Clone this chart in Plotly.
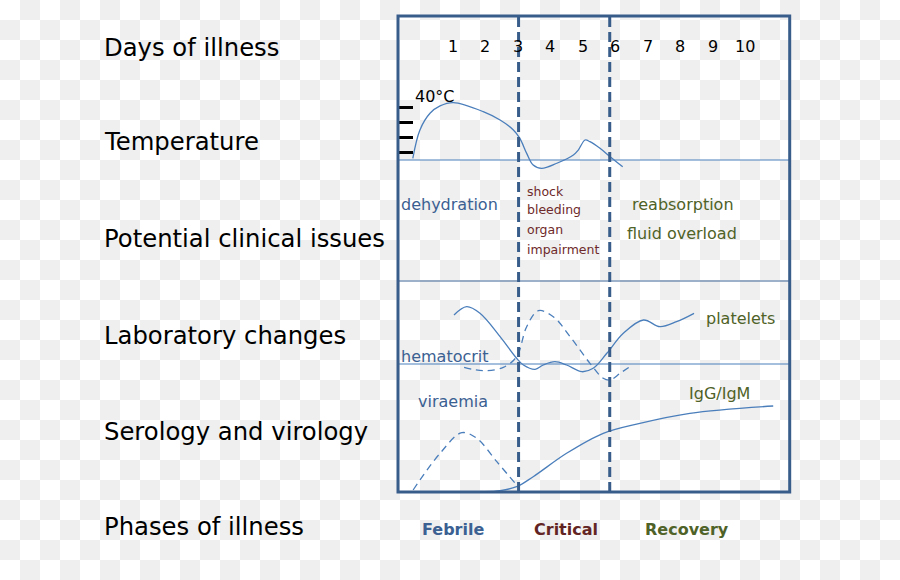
import plotly.graph_objects as go

W, H = 900, 580

# ---------------- data ----------------
day_numbers = [1, 2, 3, 4, 5, 6, 7, 8, 9, 10]
phase_bounds = [3.02, 5.83]          # febrile->critical, critical->recovery (days)

temp_days = [-0.24, -0.02, 0.29, 0.60, 1.01, 1.93, 2.45, 2.86, 3.06, 3.27,
             3.47, 3.73, 4.20, 4.71, 4.86, 5.07, 5.22, 5.53, 5.84, 6.23]
temp_c = [36.58, 38.47, 39.58, 40.07, 40.29, 39.69, 39.13, 38.47, 37.91, 36.91,
          36.13, 35.91, 36.25, 36.80, 37.13, 37.80, 37.69, 37.25, 36.69, 36.02]
temp_ticks = [37, 38, 39, 40]

platelet_days = [1.03, 1.42, 1.83, 2.45, 2.96, 3.17, 3.53, 3.78, 4.14, 4.50,
                 4.97, 5.32, 5.74, 6.25, 6.87, 7.38, 7.89, 8.43]
platelet_level = [75, 83.3, 76.7, 53.3, 31.7, 25, 20.7, 25, 28.3, 25,
                  18.3, 21.7, 36.7, 56.7, 70, 63.3, 68.3, 76.7]

hematocrit_days = [1.34, 1.93, 2.55, 2.96, 3.27, 3.63, 4.09, 4.61, 5.22, 5.63,
                   5.84, 6.15, 6.48]
hematocrit_level = [22.7, 19.3, 22.7, 33.3, 63.3, 79.3, 73.3, 53.3, 26.7, 11.7,
                    10, 16.7, 24]

viraemia_days = [-0.23, 0.60, 1.27, 1.73, 2.35, 2.96]
viraemia_level = [5, 41.7, 62.3, 56.7, 33.3, 10]

antibody_days = [1.99, 2.45, 2.96, 3.47, 4.50, 5.63, 6.76, 8.30, 10.87]
antibody_level = [3.3, 4.3, 8.3, 18.3, 41.7, 61.7, 71.7, 81.7, 89]

row_labels = ["Days of illness", "Temperature", "Potential clinical issues",
              "Laboratory changes", "Serology and virology", "Phases of illness"]
phase_labels = ["Febrile", "Critical", "Recovery"]
febrile_issues = ["dehydration"]
critical_issues = ["shock", "bleeding", "organ", "impairment"]
recovery_issues = ["reabsorption", "fluid overload"]

# ---------------- styles ----------------
FONT = "DejaVu Sans"
BLUE_TXT = "#3b6092"
RED_TXT = "#6e2a2a"
GREEN_TXT = "#4f6228"
LINE = "#4a7ebb"
FRAME = "#385d8a"

DAY0_PX, DAY_PX = 420.6, 32.44


def px(x):
    return x / W


def py(y):
    return 1 - y / H


fig = go.Figure()

line_style = dict(color=LINE, width=1.3, shape="spline", smoothing=1.0)
fig.add_trace(go.Scatter(x=temp_days, y=temp_c, mode="lines", line=line_style,
                         yaxis="y", hoverinfo="skip"))
fig.add_trace(go.Scatter(x=platelet_days, y=platelet_level, mode="lines",
                         line=line_style, yaxis="y2", hoverinfo="skip"))
fig.add_trace(go.Scatter(x=hematocrit_days, y=hematocrit_level, mode="lines",
                         line=dict(line_style, dash="7px,5px"), yaxis="y2",
                         hoverinfo="skip"))
fig.add_trace(go.Scatter(x=viraemia_days, y=viraemia_level, mode="lines",
                         line=dict(line_style, dash="7px,5px"), yaxis="y3",
                         hoverinfo="skip"))
fig.add_trace(go.Scatter(x=antibody_days, y=antibody_level, mode="lines",
                         line=line_style, yaxis="y3", hoverinfo="skip"))

# ---------------- checkerboard background ----------------
cell = 20
parts = []
for j in range(H // cell + 1):
    for i in range(W // cell + 1):
        if (i + j) % 2 == 1:
            x0, x1 = px(i * cell), px(min((i + 1) * cell, W))
            y0, y1 = py(j * cell), py(min((j + 1) * cell, H))
            parts.append(f"M{x0:.5f},{y0:.5f}H{x1:.5f}V{y1:.5f}H{x0:.5f}Z")
shapes = [dict(type="path", path="".join(parts), xref="paper", yref="paper",
               fillcolor="#efefef", line=dict(width=0), layer="below")]

# separators
for ysep, col in [(160, LINE), (281, "#3e6596"), (364, LINE)]:
    shapes.append(dict(type="line", xref="paper", yref="paper",
                       x0=px(398), x1=px(790), y0=py(ysep), y1=py(ysep),
                       line=dict(color=col, width=1.2)))
# phase boundaries
for b in phase_bounds:
    shapes.append(dict(type="line", xref="x", yref="paper", x0=b, x1=b,
                       y0=py(17), y1=py(491),
                       line=dict(color=FRAME, width=3, dash="10px,5px")))
# frame
shapes.append(dict(type="rect", xref="paper", yref="paper",
                   x0=px(398), x1=px(789.7), y0=py(16), y1=py(492),
                   line=dict(color=FRAME, width=3), fillcolor="rgba(0,0,0,0)"))

# ---------------- texts ----------------
anns = []


def ann(text, x, y, size, color, xanchor="center", xref="paper"):
    anns.append(dict(text=text, x=x, y=py(y), xref=xref, yref="paper",
                     xanchor=xanchor, yanchor="middle", showarrow=False,
                     borderpad=0, borderwidth=0,
                     font=dict(family=FONT, size=size, color=color)))


for lab, yy in zip(row_labels, [47, 142, 238, 335, 431, 526]):
    ann(lab, px(104), yy, 24.3, "#000000", xanchor="left")

for d in day_numbers:
    ann(str(d), d, 46, 16, "#000000", xref="x")

ann("40°C", px(414.5), 96, 16, "#000000", xanchor="left")

ann(febrile_issues[0], px(401), 204, 16, BLUE_TXT, xanchor="left")
for t, yy in zip(critical_issues, [191, 210, 229, 249]):
    ann(t, px(527), yy, 12.5, RED_TXT, xanchor="left")
ann(recovery_issues[0], px(683), 204, 16, GREEN_TXT)
ann(recovery_issues[1], px(681.5), 233, 16, GREEN_TXT)

ann("platelets", px(740), 318, 16, GREEN_TXT)
ann("hematocrit", px(401), 356, 16, BLUE_TXT, xanchor="left")
ann("viraemia", px(418), 401, 16, BLUE_TXT, xanchor="left")
ann("IgG/IgM", px(689), 393, 16, GREEN_TXT, xanchor="left")

for t, xx, col in zip(phase_labels, [452.5, 565.5, 687], [BLUE_TXT, "#632523", GREEN_TXT]):
    ann(f"<b>{t}</b>", px(xx), 529, 16, col)

# ---------------- layout ----------------
xr = [(0 - DAY0_PX) / DAY_PX, (W - DAY0_PX) / DAY_PX]
fig.update_layout(
    width=W, height=H, margin=dict(l=0, r=0, t=0, b=0),
    paper_bgcolor="#ffffff", plot_bgcolor="rgba(0,0,0,0)",
    showlegend=False, shapes=shapes, annotations=anns,
    xaxis=dict(range=xr, visible=False, fixedrange=True),
    yaxis=dict(domain=[1 - 182 / H, 1 - 92 / H], range=[35, 41],
               anchor="free", position=px(398), tickmode="array",
               tickvals=temp_ticks, ticks="inside", ticklen=14, tickwidth=3,
               tickcolor="#000000", showticklabels=False, showline=False,
               showgrid=False, zeroline=False, fixedrange=True),
    yaxis2=dict(domain=[1 - 390 / H, 1 - 290 / H], range=[0, 100],
                visible=False, fixedrange=True),
    yaxis3=dict(domain=[1 - 495 / H, 1 - 395 / H], range=[0, 100],
                visible=False, fixedrange=True),
)

fig.write_html("out.html")
